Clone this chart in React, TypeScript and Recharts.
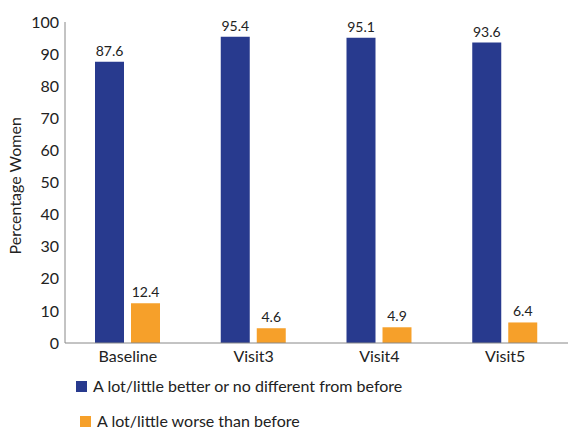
import { BarChart, Bar, XAxis, YAxis, LabelList } from 'recharts';

document.body.style.margin = '0';

const visits = ['Baseline', 'Visit3', 'Visit4', 'Visit5'];
const better = [87.6, 95.4, 95.1, 93.6];
const worse = [12.4, 4.6, 4.9, 6.4];
const yTicks = [0, 10, 20, 30, 40, 50, 60, 70, 80, 90, 100];

const BLUE = '#283A8E';
const ORANGE = '#F6A02A';
const FONT = 'Lato, "Open Sans", sans-serif';

const data = visits.map((v, i) => ({ visit: v, better: better[i], worse: worse[i] }));

const legendItems = [
  { label: 'A lot/little better or no different from before', color: BLUE, indent: 0, top: 377 },
  { label: 'A lot/little worse than before', color: ORANGE, indent: 4, top: 412 },
];

function LegendBox() {
  return (
    <>
      {legendItems.map((it) => (
        <div
          key={it.label}
          style={{
            position: 'absolute',
            left: 76 + it.indent,
            top: it.top,
            height: 18,
            lineHeight: '18px',
            display: 'flex',
            alignItems: 'center',
            fontFamily: FONT,
            fontSize: 16,
            color: '#222',
            whiteSpace: 'nowrap',
          }}
        >
          <span style={{ width: 11, height: 11, background: it.color, display: 'inline-block', marginRight: 6 }} />
          <span>{it.label}</span>
        </div>
      ))}
    </>
  );
}

export default function App() {
  return (
    <div style={{ width: 568, height: 431, background: '#fff', position: 'relative', overflow: 'hidden' }}>
      <BarChart
        width={568}
        height={431}
        data={data}
        margin={{ top: 22, right: 0, bottom: 58, left: 0 }}
        barSize={29}
        barGap={7}
      >
        <XAxis
          dataKey="visit"
          axisLine={{ stroke: '#888' }}
          tickLine={false}
          tickSize={0}
          tickMargin={8}
          height={30}
          tick={{ fill: '#222', fontSize: 16, fontFamily: FONT }}
        />
        <YAxis
          domain={[0, 100]}
          ticks={yTicks}
          width={65}
          axisLine={{ stroke: '#888' }}
          tickLine={false}
          tickSize={0}
          tickMargin={6}
          tick={{ fill: '#222', fontSize: 16, fontFamily: FONT }}
          label={{
            value: 'Percentage Women',
            angle: -90,
            position: 'insideLeft',
            dx: 10,
            dy: 72,
            style: { fill: '#222', fontSize: 16, fontFamily: FONT },
          }}
        />
        <Bar dataKey="better" fill={BLUE} isAnimationActive={false}>
          <LabelList dataKey="better" position="top" offset={6} style={{ fill: '#222', fontSize: 14, fontFamily: FONT }} />
        </Bar>
        <Bar dataKey="worse" fill={ORANGE} isAnimationActive={false}>
          <LabelList dataKey="worse" position="top" offset={6} style={{ fill: '#222', fontSize: 14, fontFamily: FONT }} />
        </Bar>
      </BarChart>
      <LegendBox />
    </div>
  );
}
